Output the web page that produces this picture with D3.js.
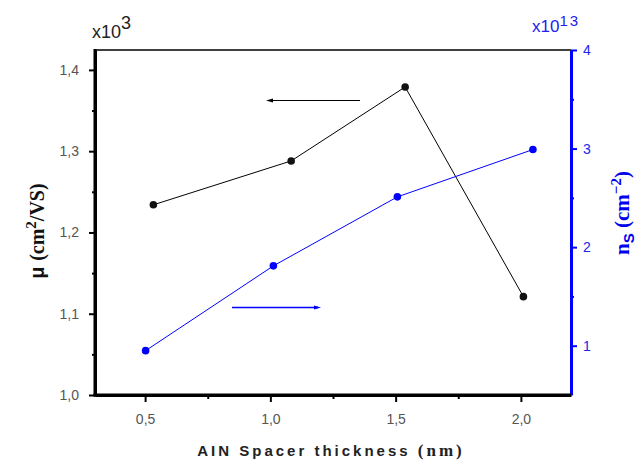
<!DOCTYPE html>
<html><head><meta charset="utf-8">
<script src="https://cdn.jsdelivr.net/npm/d3@7"></script>
<style>body{margin:0;background:#fff}svg{display:block}</style>
</head><body>
<script>
const xThick = [0.533, 1.083, 1.538, 2.01];
const mobility = [1.234, 1.288, 1.379, 1.121];
const xThickNs = [0.502, 1.012, 1.507, 2.048];
const ns = [0.95, 1.81, 2.51, 2.99];
const xTicks = [0.5, 1.0, 1.5, 2.0];
const yLeftTicks = [1.0, 1.1, 1.2, 1.3, 1.4];
const yRightTicks = [1, 2, 3, 4];

const W = 638, H = 461;
const L = 95, R = 571, T = 50, B = 395;
const svg = d3.select("body").append("svg").attr("width", W).attr("height", H);
const x = d3.scaleLinear().domain([0.3, 2.2]).range([L, R]);
const yL = d3.scaleLinear().domain([1.0, 1.4245]).range([B, T]);
const yR = d3.scaleLinear().domain([0.5, 4]).range([B, T]);
const fmt = d => d3.format(".1f")(d).replace(".", ",");
const tickColor = "#555";
const sans = "Arial, 'Liberation Sans', sans-serif";
const serif = "'Liberation Serif', 'Times New Roman', serif";

function style(g, color, w) {
  g.selectAll(".domain").style("stroke", color).style("stroke-width", w + "px");
  g.selectAll(".tick line").style("stroke", color).style("stroke-width", "2px");
}

// top border
svg.append("line").attr("x1", L).attr("x2", R).attr("y1", T).attr("y2", T).attr("stroke", "#000").attr("stroke-width", 1.5);

// bottom axis
const gx = svg.append("g").attr("transform", `translate(0,${B})`)
  .call(d3.axisBottom(x).tickValues(xTicks).tickFormat(fmt).tickSize(7).tickSizeOuter(0).tickPadding(12));
style(gx, "#000", 3);
const gx2 = svg.append("g").attr("transform", `translate(0,${B})`)
  .call(d3.axisBottom(x).tickValues([0.75, 1.25, 1.75]).tickFormat("").tickSize(4))
  .call(g => g.select(".domain").remove());
style(gx2, "#000", 3);

// left axis
const gl = svg.append("g").attr("transform", `translate(${L},0)`)
  .call(d3.axisLeft(yL).tickValues(yLeftTicks).tickFormat(fmt).tickSize(6).tickSizeOuter(0).tickPadding(10));
style(gl, "#000", 3);
const gl2 = svg.append("g").attr("transform", `translate(${L},0)`)
  .call(d3.axisLeft(yL).tickValues([1.05, 1.15, 1.25, 1.35]).tickFormat("").tickSize(3))
  .call(g => g.select(".domain").remove());
style(gl2, "#000", 3);

// right axis
const gr = svg.append("g").attr("transform", `translate(${R},0)`)
  .call(d3.axisRight(yR).tickValues(yRightTicks).tickFormat(d3.format("d")).tickSize(6).tickSizeOuter(0).tickPadding(6));
style(gr, "#0000ff", 3);
const gr2 = svg.append("g").attr("transform", `translate(${R},0)`)
  .call(d3.axisRight(yR).tickValues([1.5, 2.5, 3.5]).tickFormat("").tickSize(3))
  .call(g => g.select(".domain").remove());
style(gr2, "#0000ff", 3);

// reinforce axis spines
svg.append("rect").attr("x", L - 1.5).attr("y", T - 1).attr("width", 3).attr("height", B - T + 2.5).attr("fill", "#000");
svg.append("rect").attr("x", L - 1.5).attr("y", B - 1.5).attr("width", R - L + 1.5).attr("height", 3).attr("fill", "#000");

[gx, gl].forEach(g => g.selectAll("text").attr("fill", tickColor).attr("font-size", 14).attr("font-family", sans));
gr.selectAll("text").attr("fill", "#2222ee").attr("font-size", 14).attr("font-family", sans);

// black series
const lineL = d3.line().x((d, i) => x(xThick[i])).y(d => yL(d));
svg.append("path").datum(mobility).attr("d", lineL).attr("fill", "none").attr("stroke", "#000").attr("stroke-width", 1);
svg.selectAll(".pm").data(mobility).enter().append("circle")
  .attr("cx", (d, i) => x(xThick[i])).attr("cy", d => yL(d)).attr("r", 3.8).attr("fill", "#111");

// blue series
const lineR = d3.line().x((d, i) => x(xThickNs[i])).y(d => yR(d));
svg.append("path").datum(ns).attr("d", lineR).attr("fill", "none").attr("stroke", "#0000ff").attr("stroke-width", 1);
svg.selectAll(".pn").data(ns).enter().append("circle")
  .attr("cx", (d, i) => x(xThickNs[i])).attr("cy", d => yR(d)).attr("r", 3.8).attr("fill", "#0000ff");

// arrows
svg.append("line").attr("x1", 360).attr("x2", 269).attr("y1", 100.5).attr("y2", 100.5).attr("stroke", "#000").attr("stroke-width", 1.2);
svg.append("path").attr("d", "M266,100.5 L273,98.5 L273,102.5 Z").attr("fill", "#000");
svg.append("line").attr("x1", 232).attr("x2", 318).attr("y1", 307.5).attr("y2", 307.5).attr("stroke", "#0000ff").attr("stroke-width", 1.5);
svg.append("path").attr("d", "M321,307.5 L314,305.5 L314,309.5 Z").attr("fill", "#0000ff");

// multiplier labels
const m1 = svg.append("text").attr("x", 92).attr("y", 38).attr("font-family", sans).attr("font-size", 18).attr("fill", "#222");
m1.append("tspan").text("x10");
m1.append("tspan").attr("dy", -9).attr("font-size", 18).text("3");
const m2 = svg.append("text").attr("x", 532).attr("y", 32).attr("font-family", sans).attr("font-size", 17).attr("fill", "#2222ee");
m2.append("tspan").text("x10");
m2.append("tspan").attr("dy", -6).attr("font-size", 15).attr("letter-spacing", 2).text("13");

// y left title
const yt = svg.append("text").attr("transform", "translate(44,231) rotate(-90)").attr("text-anchor", "middle")
  .attr("font-family", serif).attr("font-weight", "bold").attr("font-size", 20).attr("fill", "#111");
yt.append("tspan").attr("font-family", sans).text("μ ");
yt.append("tspan").text("(cm");
yt.append("tspan").attr("dy", -8).attr("font-size", 15).text("2");
yt.append("tspan").attr("dy", 8).text("/VS)");

// y right title
const rt = svg.append("text").attr("transform", "translate(629,213) rotate(-90)").attr("text-anchor", "middle")
  .attr("font-family", serif).attr("font-weight", "bold").attr("font-size", 21).attr("fill", "#0000ee");
rt.append("tspan").text("n");
rt.append("tspan").attr("dy", 5).attr("font-size", 15).attr("font-family", sans).text("S");
rt.append("tspan").attr("dy", -5).text(" (cm");
rt.append("tspan").attr("dy", -8).attr("font-size", 15).text("−2");
rt.append("tspan").attr("dy", 8).text(")");

// x title
const xt = svg.append("text").attr("x", 331).attr("y", 456).attr("text-anchor", "middle")
  .attr("font-family", sans).attr("font-weight", "bold").attr("font-size", 15).attr("fill", "#222").attr("letter-spacing", 3);
xt.append("tspan").text("AIN Spacer thickness ");
xt.append("tspan").attr("font-family", serif).attr("font-size", 17).text("(nm)");
</script>
</body></html>
